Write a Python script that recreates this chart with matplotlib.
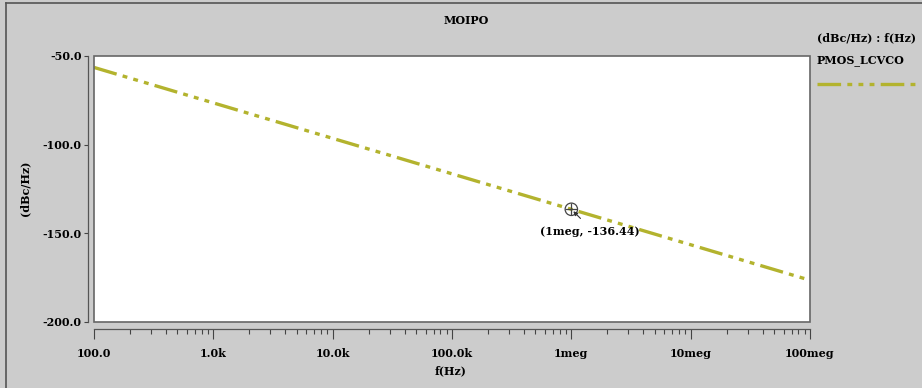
import matplotlib
matplotlib.use('Agg')
import matplotlib.pyplot as plt
from matplotlib.lines import Line2D
from matplotlib.patches import Rectangle

# data
freq = [1e2, 1e3, 1e4, 1e5, 1e6, 1e7, 1e8]
noise = [-56.44, -76.44, -96.44, -116.44, -136.44, -156.44, -176.44]
xtick_vals = [1e2, 1e3, 1e4, 1e5, 1e6, 1e7, 1e8]
xtick_labels = ['100.0', '1.0k', '10.0k', '100.0k', '1meg', '10meg', '100meg']
ytick_vals = [-200, -150, -100, -50]
ytick_labels = ['-200.0', '-150.0', '-100.0', '-50.0']
marker_x, marker_y = 1e6, -136.44
series_name = 'PMOS_LCVCO'

plt.rcParams['font.family'] = 'DejaVu Serif'
plt.rcParams['font.weight'] = 'bold'
plt.rcParams['lines.scale_dashes'] = False

line_color = '#b3b32e'
dash = (0, (17, 4.5, 3.5, 4.5, 3.5, 4.5, 3.5, 4.5))
bg = '#cccccc'
fs = 8

fig = plt.figure(figsize=(9.22, 3.88), dpi=100, facecolor=bg)
W, H = 922, 388
ax = fig.add_axes([94 / W, 1 - 322 / H, (810 - 94) / W, (322 - 56) / H])
ax.set_facecolor('white')

ax.plot(freq, noise, color=line_color, lw=2.4, linestyle=dash, solid_capstyle='butt')
ax.set_xscale('log')
ax.set_xlim(1e2, 1e8)
ax.set_ylim(-200, -50)

# marker with crosshair and cursor arrow
ax.scatter([marker_x], [marker_y], s=80, facecolors='none', edgecolors='#444444', lw=0.9, zorder=5)
ax.scatter([marker_x], [marker_y], s=80, marker='+', color='#444444', lw=0.9, zorder=5)
ax.annotate('', xy=(marker_x, marker_y), xytext=(8, -8), textcoords='offset points',
            arrowprops=dict(arrowstyle='-|>', color='#333333', lw=0.8, mutation_scale=6), zorder=6)
ax.annotate('(1meg, -136.44)', xy=(marker_x, marker_y), xytext=(13, -16),
            textcoords='offset points', ha='center', va='center', fontsize=fs, fontweight='bold')

# detached axis lines
for side in ['top', 'right']:
    ax.spines[side].set_visible(False)
ax.spines['left'].set_position(('outward', 4))
ax.spines['bottom'].set_position(('outward', 5))
for side in ['left', 'bottom']:
    ax.spines[side].set_color('#555555')
    ax.spines[side].set_linewidth(0.9)
ax.add_patch(Rectangle((0, 0), 1, 1, transform=ax.transAxes, fill=False,
                       ec='#666666', lw=1.2, zorder=10, clip_on=False))

ax.set_xticks(xtick_vals)
ax.set_xticklabels(xtick_labels)
ax.set_yticks(ytick_vals)
ax.set_yticklabels(ytick_labels)
ax.tick_params(axis='x', which='major', length=7, width=0.8, color='#444444',
               direction='out', pad=7, labelsize=fs)
ax.tick_params(axis='x', which='minor', length=3.5, width=0.8, color='#444444', direction='out')
ax.tick_params(axis='y', which='major', length=3, width=0.8, color='#444444',
               direction='out', pad=2, labelsize=fs)
ax.yaxis.set_minor_locator(matplotlib.ticker.NullLocator())
ax.xaxis.set_minor_formatter(matplotlib.ticker.NullFormatter())

# titles and labels
fig.text(466 / W, 1 - 20 / H, 'MOIPO', ha='center', va='center', fontsize=fs, fontweight='bold')
fig.text(25 / W, 1 - 188 / H, '(dBc/Hz)', ha='center', va='center', rotation=90,
         fontsize=fs, fontweight='bold')
fig.text(451 / W, 1 - 371 / H, 'f(Hz)', ha='center', va='center', fontsize=fs, fontweight='bold')

# legend on the right
fig.text(817 / W, 1 - 38 / H, '(dBc/Hz) : f(Hz)', ha='left', va='center', fontsize=fs, fontweight='bold')
fig.text(817 / W, 1 - 61 / H, series_name, ha='left', va='center', fontsize=fs, fontweight='bold')
fig.add_artist(Line2D([817 / W, 916 / W], [1 - 84 / H, 1 - 84 / H], transform=fig.transFigure,
                      color=line_color, lw=2.4, linestyle=dash, solid_capstyle='butt'))

# outer frame (left and top edges visible)
fig.add_artist(Line2D([6 / W, 6 / W], [0, 1 - 3 / H], transform=fig.transFigure, color='#555555', lw=1.2))
fig.add_artist(Line2D([6 / W, 1], [1 - 3 / H, 1 - 3 / H], transform=fig.transFigure, color='#555555', lw=1.2))

fig.savefig('out.png', dpi=100, facecolor=bg)
